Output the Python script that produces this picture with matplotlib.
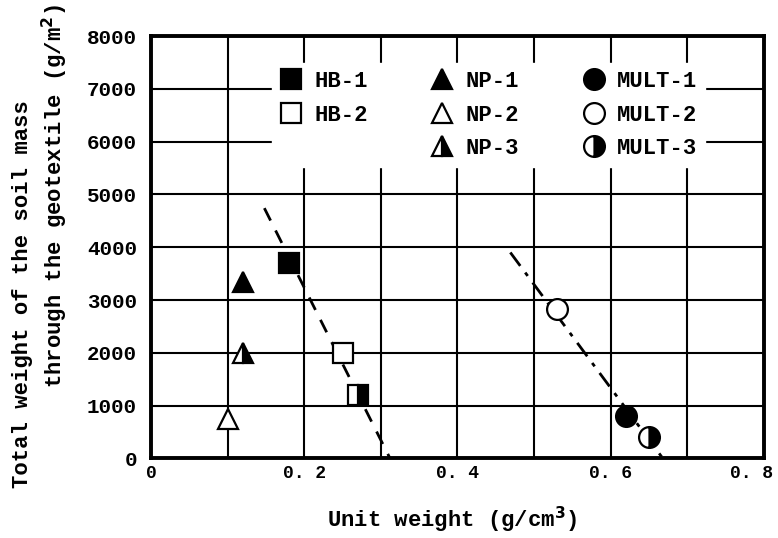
import matplotlib
matplotlib.use("Agg")
import matplotlib.pyplot as plt
import matplotlib.transforms as mtransforms
from matplotlib.lines import Line2D

# ---- data ----
hb1_x, hb1_y = [0.18], [3700]
hb2_x, hb2_y = [0.25], [2000]
hb3_x, hb3_y = [0.27], [1200]
np1_x, np1_y = [0.12], [3350]
np2_x, np2_y = [0.10], [750]
np3_x, np3_y = [0.12], [2000]
mult1_x, mult1_y = [0.62], [800]
mult2_x, mult2_y = [0.53], [2830]
mult3_x, mult3_y = [0.65], [400]
hb_fit_x, hb_fit_y = [0.148, 0.312], [4740, 0]
mult_fit_x, mult_fit_y = [0.469, 0.668], [3900, 0]

x_ticks = [0, 0.2, 0.4, 0.6, 0.8]
x_ticklabels = ["0", "0. 2", "0. 4", "0. 6", "0. 8"]
y_ticks = [0, 1000, 2000, 3000, 4000, 5000, 6000, 7000, 8000]

FONT = "Liberation Mono"
plt.rcParams['font.family'] = [FONT, 'DejaVu Sans']
plt.rcParams['font.weight'] = 'bold'

fig = plt.figure(figsize=(7.78, 5.38), dpi=100)
ax = fig.add_axes([0.194, 0.148, 0.788, 0.785])

ms = 15
mew = 1.6
k = 'black'

ax.plot(hb_fit_x, hb_fit_y, color=k, lw=2, ls=(0, (5, 4)), zorder=2)
ax.plot(mult_fit_x, mult_fit_y, color=k, lw=2, ls=(0, (6, 3, 1.5, 3)), zorder=2)

common = dict(ls='none', ms=ms, mew=mew, mec=k, zorder=3)
h1, = ax.plot(hb1_x, hb1_y, marker='s', mfc=k, label='HB-1', **common)
h2, = ax.plot(hb2_x, hb2_y, marker='s', mfc='white', label='HB-2', **common)
ax.plot(hb3_x, hb3_y, marker='s', fillstyle='right', mfc=k, markerfacecoloralt='white', **common)
n1, = ax.plot(np1_x, np1_y, marker='^', mfc=k, label='NP-1', **common)
n2, = ax.plot(np2_x, np2_y, marker='^', mfc='white', label='NP-2', **common)
n3, = ax.plot(np3_x, np3_y, marker='^', fillstyle='right', mfc=k, markerfacecoloralt='white', label='NP-3', **common)
m1, = ax.plot(mult1_x, mult1_y, marker='o', mfc=k, label='MULT-1', **common)
m2, = ax.plot(mult2_x, mult2_y, marker='o', mfc='white', label='MULT-2', **common)
m3, = ax.plot(mult3_x, mult3_y, marker='o', fillstyle='right', mfc=k, markerfacecoloralt='white', label='MULT-3', **common)

blank = Line2D([], [], ls='none', marker=None)
handles = [h1, h2, blank, n1, n2, n3, m1, m2, m3]
labels = ['HB-1', 'HB-2', '', 'NP-1', 'NP-2', 'NP-3', 'MULT-1', 'MULT-2', 'MULT-3']
leg = ax.legend(handles, labels, ncol=3, loc='upper left', bbox_to_anchor=(0.198, 0.935),
                frameon=True, fancybox=False, framealpha=1, facecolor='white', edgecolor='white',
                prop={'family': FONT, 'weight': 'bold', 'size': 16},
                handlelength=1.0, handletextpad=0.55, columnspacing=2.85, labelspacing=0.56,
                borderpad=0.35, borderaxespad=0)
leg.set_zorder(5)

ax.set_xlim(0, 0.8)
ax.set_ylim(0, 8000)
ax.set_xticks(x_ticks)
ax.set_xticklabels(x_ticklabels)
ax.set_xticks([0.1, 0.3, 0.5, 0.7], minor=True)
ax.set_yticks(y_ticks)
ax.set_yticklabels([str(v) for v in y_ticks])
ax.grid(True, which='both', color=k, lw=1.5)
ax.set_axisbelow(True)
ax.tick_params(which='both', length=0)
ax.tick_params(axis='x', pad=5, labelsize=13)
ax.tick_params(axis='y', pad=10, labelsize=15)
for lab in ax.get_xticklabels() + ax.get_yticklabels():
    lab.set_fontweight('bold')
# keep the last x tick label inside the figure
last = ax.get_xticklabels()[-1]
last.set_transform(last.get_transform() +
                   mtransforms.ScaledTranslation(-12 / 100, 0, fig.dpi_scale_trans))
for s in ax.spines.values():
    s.set_linewidth(2.8)
    s.set_color(k)

fig.text(452 / 778, 1 - 520 / 538, "Unit weight (g/cm$^3$)", ha='center', va='center',
         fontsize=16, fontweight='bold', family=FONT)
fig.text(23 / 778, 1 - 294 / 538, "Total weight of the soil mass", rotation=90,
         ha='center', va='center', fontsize=16, fontweight='bold', family=FONT)
fig.text(55 / 778, 1 - 196 / 538, "through the geotextile (g/m$^2$)", rotation=90,
         ha='center', va='center', fontsize=16, fontweight='bold', family=FONT)

fig.savefig("out.png", dpi=100)
